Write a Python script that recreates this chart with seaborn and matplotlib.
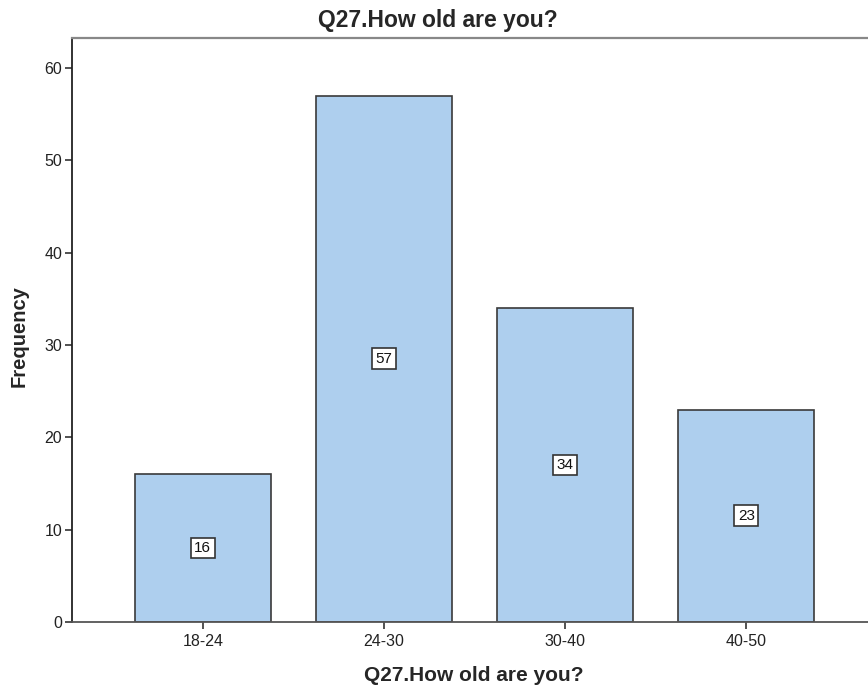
import matplotlib
matplotlib.use("Agg")
import matplotlib.pyplot as plt
import seaborn as sns
import pandas as pd

categories = ["18-24", "24-30", "30-40", "40-50"]
frequencies = [16, 57, 34, 23]
y_ticks = [0, 10, 20, 30, 40, 50, 60]

sns.set_theme(style="white")
plt.rcParams["font.family"] = ["Liberation Sans", "DejaVu Sans"]

df = pd.DataFrame({"age": categories, "freq": frequencies})

fig = plt.figure(figsize=(8.68, 6.91), dpi=100)
ax = fig.add_axes([72 / 868, 1 - 622 / 691, 1 - 72 / 868 + 0.01, (622 - 38) / 691])

sns.barplot(data=df, x="age", y="freq", color="#aecfee", saturation=1,
            width=0.75, edgecolor="#3a3a3a", linewidth=1.2, ax=ax)

ax.set_xlim(-0.722, 3.72)
ax.set_ylim(0, 63.25)
ax.set_yticks(y_ticks)
ax.tick_params(axis="both", direction="out", length=5, width=1.2,
               color="#333333", labelsize=11.5, labelcolor="#222222",
               left=True, bottom=True)
ax.tick_params(axis="x", pad=4)
ax.tick_params(axis="y", pad=2)

for side in ["left", "bottom", "top"]:
    ax.spines[side].set_visible(True)
ax.spines["right"].set_visible(False)
ax.spines["left"].set_color("#222222")
ax.spines["left"].set_linewidth(1.3)
ax.spines["bottom"].set_color("#555555")
ax.spines["bottom"].set_linewidth(1.3)
ax.spines["top"].set_color("#888888")
ax.spines["top"].set_linewidth(1.6)

for i, v in enumerate(frequencies):
    ax.text(i, v / 2, str(v), ha="center", va="center", fontsize=11, color="#111111",
            bbox=dict(boxstyle="square,pad=0.22", facecolor="white",
                      edgecolor="#333333", linewidth=1.2))

ax.set_xlabel("Q27.How old are you?", fontsize=15, fontweight="bold")
ax.set_ylabel("Frequency", fontsize=14.5, fontweight="bold")
ax.xaxis.set_label_coords(0.4996, -0.076)
ax.yaxis.set_label_coords(-0.054, 0.49)
fig.text(0.504, 1 - 27 / 691, "Q27.How old are you?",
         ha="center", va="baseline", fontsize=16.5, fontweight="bold")

fig.savefig("out.png", dpi=100)
